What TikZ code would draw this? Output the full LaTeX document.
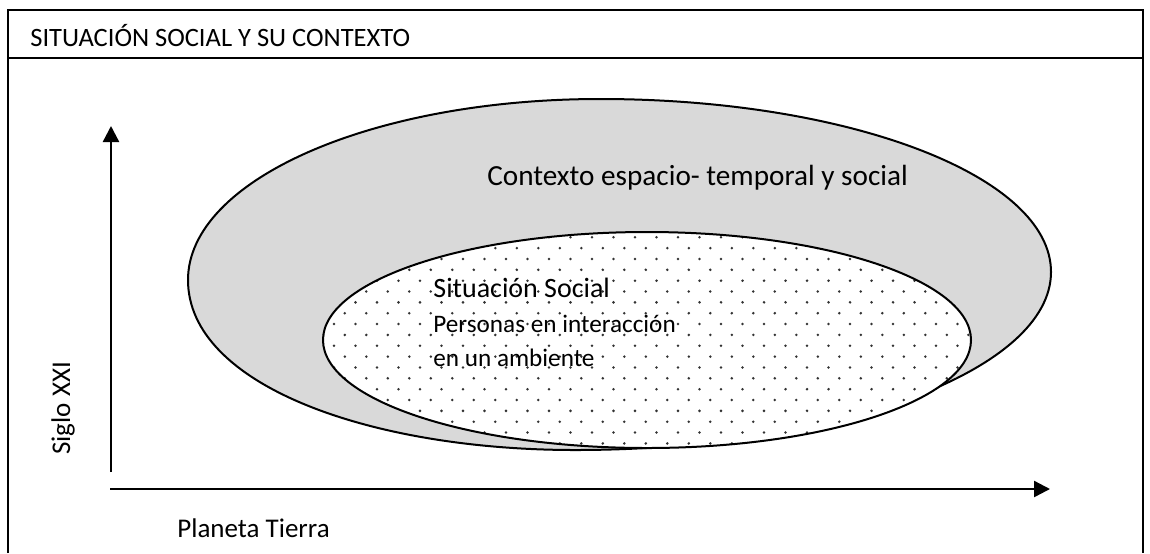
\documentclass[tikz,border=0pt]{standalone}
\usepackage{fontspec}
\setmainfont{Carlito}
\usetikzlibrary{arrows.meta}
\definecolor{ctxgray}{HTML}{D9D9D9}
\begin{document}
\begin{tikzpicture}[x=0.5pt,y=-0.5pt,
  frame/.style={line width=0.9pt, draw=black},
  shapeline/.style={line width=1pt, draw=black},
  axis/.style={line width=1.2pt, draw=black, -{Triangle[length=8pt,width=8pt]}},
  lbl/.style={inner sep=0pt, anchor=base west, text=black},
  dotc/.style={fill=black!80}
]
\useasboundingbox (0,0) rectangle (1150,553);
% frame and header
\draw[frame] (8,553) -- (8,10) -- (1143,10) -- (1143,553);
\draw[frame] (8,58) -- (1143,58);
\node[lbl, font=\fontsize{13.25}{16}\selectfont] (title) at (30,46) {SITUACIÓN SOCIAL Y SU CONTEXTO};
% outer context shape
\draw[shapeline, fill=ctxgray] (188,280) .. controls (188,180) and (372,99) .. (600,99)
  .. controls (849,99) and (1051,176) .. (1051,272)
  .. controls (1051,370) and (838,450) .. (575,450)
  .. controls (370,450) and (188,385) .. (188,280) -- cycle;
\node[lbl, font=\fontsize{14.6}{17}\selectfont] (contexto) at (487,185) {Contexto espacio- temporal y social};
% inner situation ellipse with dot pattern
\fill[white] (647,340) ellipse [x radius=162pt, y radius=54pt];
\begin{scope}
  \clip (647,340) ellipse [x radius=162pt, y radius=54pt];
  \foreach \j in {-14,-12,...,6}{\foreach \i in {-4,...,27}{\fill[dotc] ({409.3+21.5*\i},{378.3+10.85*\j}) circle (0.7pt);}}
  \foreach \j in {-13,-11,...,7}{\foreach \i in {-4,...,26}{\fill[dotc] ({420+21.5*\i},{378.3+10.85*\j}) circle (0.7pt);}}
\end{scope}
\draw[shapeline] (647,340) ellipse [x radius=162pt, y radius=54pt];
\node[lbl, font=\fontsize{14}{17}\selectfont] (sit) at (433,297) {Situación Social};
\node[lbl, font=\fontsize{12.6}{15}\selectfont] (pers) at (433,332) {Personas en interacción};
\node[lbl, font=\fontsize{12.6}{15}\selectfont] (amb) at (433,366) {en un ambiente};
% axes
\coordinate (yfrom) at (111,472);
\coordinate (yto) at (111,126);
\draw[axis] (yfrom) -- (yto);
\coordinate (xfrom) at (110,489);
\coordinate (xto) at (1050,489);
\draw[axis] (xfrom) -- (xto);
\node[lbl, rotate=90, font=\fontsize{13.5}{16}\selectfont] (siglo) at (70,455) {Siglo XXI};
\node[lbl, font=\fontsize{13.5}{16}\selectfont] (planeta) at (177,537) {Planeta Tierra};
\end{tikzpicture}
\end{document}
